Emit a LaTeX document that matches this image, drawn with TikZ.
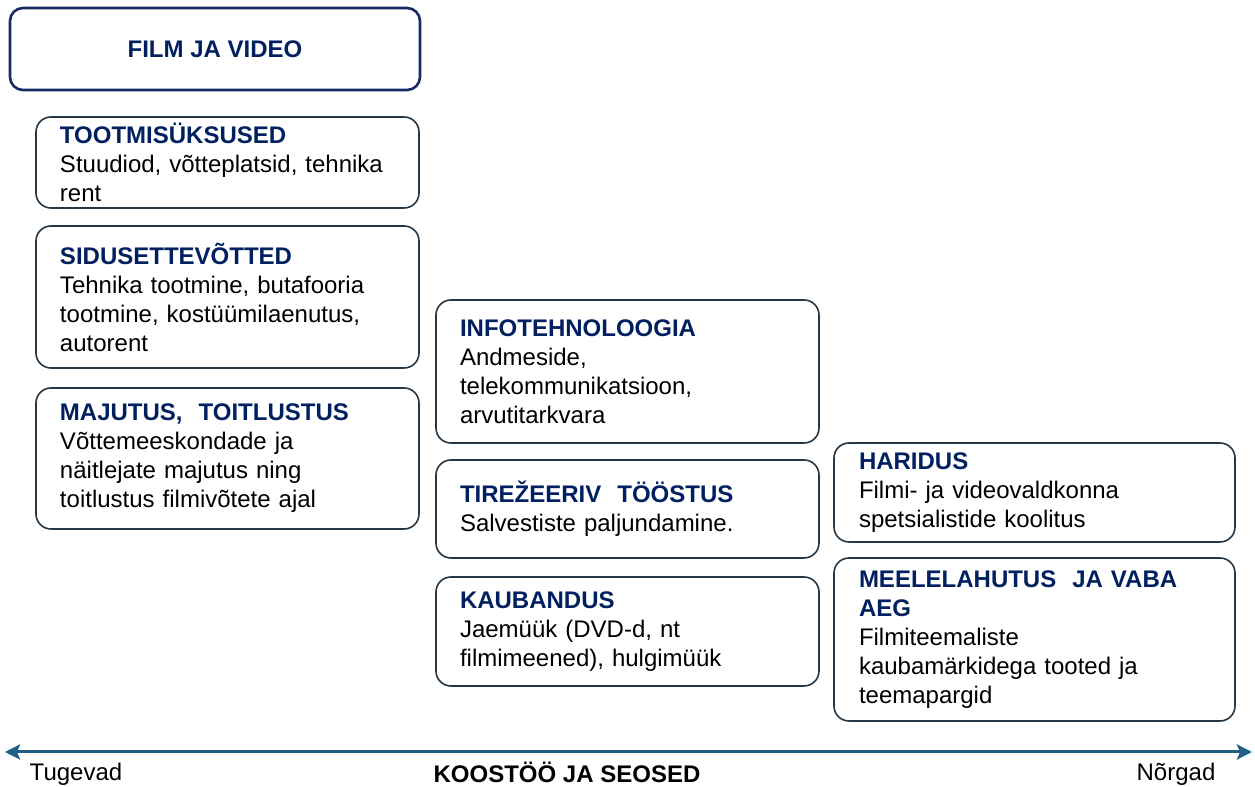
\documentclass[tikz,border=0pt]{standalone}
\usepackage{fontspec}
\setmainfont{Liberation Sans}
\usetikzlibrary{positioning,arrows.meta}
\definecolor{kNavy}{RGB}{0,32,96}
\definecolor{kLine}{RGB}{38,56,70}
\definecolor{kFrame}{RGB}{22,42,100}
\definecolor{kAxis}{RGB}{32,96,136}
\tikzset{
  box/.style={rectangle, rounded corners=7.5pt, draw=kLine, line width=0.8pt,
              fill=white, inner xsep=12pt, inner ysep=2pt, outer sep=0pt, align=left,
              font=\fontsize{12}{14.5}\selectfont,
              text width=167.5pt, minimum width=191.5pt},
  boxr/.style={box, inner xsep=12.5pt, text width=175.5pt, minimum width=200.5pt},
  topbox/.style={rectangle, rounded corners=6.5pt, draw=kFrame, line width=1.3pt,
                 minimum width=205pt, minimum height=41pt, align=center,
                 font=\fontsize{12}{14.5}\selectfont\bfseries, text=kNavy},
  axis/.style={{Stealth[length=7.5pt,width=7.5pt,inset=1.5pt]}-{Stealth[length=7.5pt,width=7.5pt,inset=1.5pt]},
               draw=kAxis, line width=1.5pt},
  lbl/.style={font=\fontsize{12}{14}\selectfont, inner sep=0pt, anchor=base},
}
\newcommand{\Hd}[1]{\textcolor{kNavy}{\textbf{#1}}}

\begin{document}
\begin{tikzpicture}[node distance=9pt]
  \useasboundingbox (0,0) rectangle (627.5pt,393.5pt);
  \node[topbox] (film) at (107.5pt,369pt) {FILM JA VIDEO};
  % left column
  \node[box, minimum height=45.5pt, anchor=north west] (toot) at (18pt,335pt)
    {\Hd{TOOTMISÜKSUSED}\\ Stuudiod, võtteplatsid, tehnika\\ rent};
  \node[box, minimum height=71pt, below=of toot] (sidus)
    {\Hd{SIDUSETTEVÕTTED}\\ Tehnika tootmine, butafooria\\ tootmine, kostüümilaenutus,\\ autorent};
  \node[box, minimum height=70.5pt, below=10pt of sidus] (maj)
    {\Hd{MAJUTUS,\ \ TOITLUSTUS}\\ Võttemeeskondade ja\\ näitlejate majutus ning\\ toitlustus filmivõtete ajal};
  % middle column
  \node[box, minimum height=71.5pt, anchor=north west] (info) at (218pt,243.5pt)
    {\Hd{INFOTEHNOLOOGIA}\\ Andmeside,\\ telekommunikatsioon,\\ arvutitarkvara};
  \node[box, minimum height=49pt, below=8.5pt of info] (tir)
    {\Hd{TIREŽEERIV\ \ TÖÖSTUS}\\ Salvestiste paljundamine.};
  \node[box, minimum height=54.5pt, below=9.5pt of tir] (kaub)
    {\Hd{KAUBANDUS}\\ Jaemüük (DVD-d, nt\\ filmimeened), hulgimüük};
  % right column
  \node[boxr, minimum height=49.5pt, anchor=north west] (har) at (417pt,172pt)
    {\Hd{HARIDUS}\\ Filmi- ja videovaldkonna\\ spetsialistide koolitus};
  \node[boxr, minimum height=81.5pt, below=8pt of har] (meel)
    {\Hd{MEELELAHUTUS\ \ JA VABA}\\ \Hd{AEG}\\ Filmiteemaliste\\ kaubamärkidega tooted ja\\ teemapargid};
  % axis
  \coordinate (lo) at (2.5pt,17.5pt);
  \coordinate (hi) at (626pt,17.5pt);
  \draw[axis] (lo) -- (hi);
  \node[lbl] (tug) at (38pt,3pt) {Tugevad};
  \node[lbl, font=\fontsize{12}{14}\selectfont\bfseries] (koos) at (283.5pt,2.2pt) {KOOSTÖÖ JA SEOSED};
  \node[lbl] (nor) at (588pt,3pt) {Nõrgad};
\end{tikzpicture}
\end{document}
